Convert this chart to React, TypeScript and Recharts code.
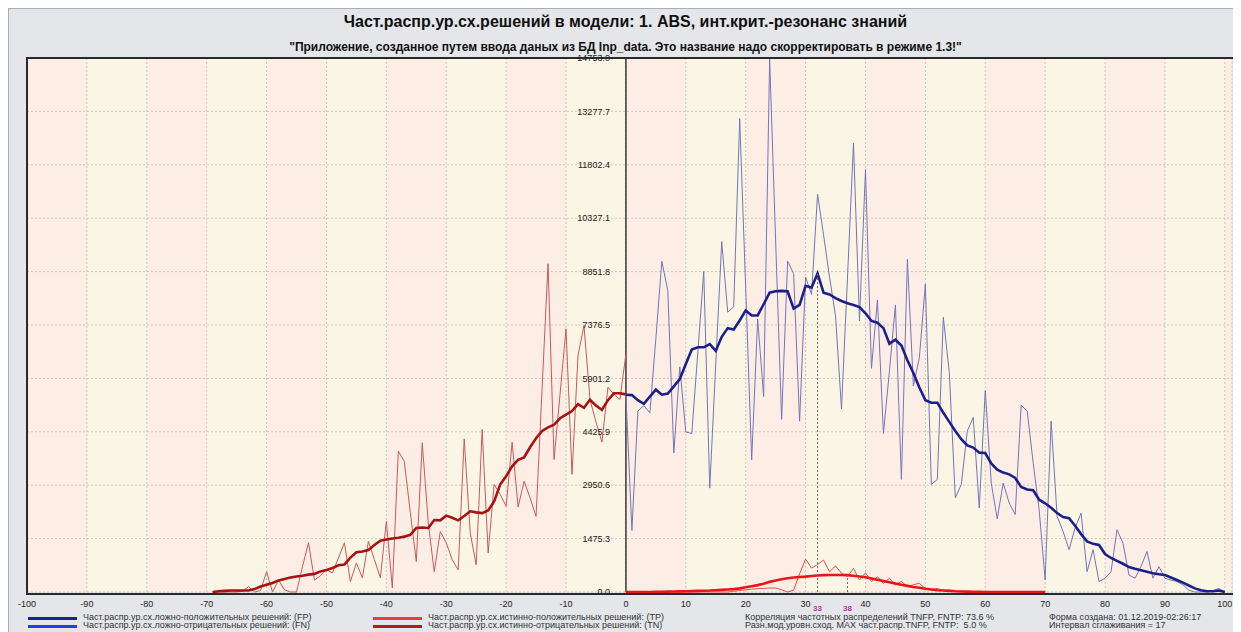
import React from 'react';
import {
  LineChart,
  Line,
  XAxis,
  YAxis,
  CartesianGrid,
  ReferenceLine,
  ReferenceDot,
} from 'recharts';

// Axis ticks
const X_TICKS = [-100, -90, -80, -70, -60, -50, -40, -30, -20, -10, 0, 10, 20, 30, 40, 50, 60, 70, 80, 90, 100];
const Y_TICKS = [0, 1475.3, 2950.6, 4425.9, 5901.2, 7376.5, 8851.8, 10327.1, 11802.4, 13277.7, 14753.0];

// True negatives (TN), levels -69 .. 0
const TN_START = -69;
const TN_RAW = [
  0, 0, 0, 0, 0, 20, 150, 0, 40, 560,
  0, 330, 60, 0, 0, 700, 1360, 330, 450, 610,
  530, 940, 1360, 290, 800, 390, 1400, 900, 390, 1950,
  110, 3890, 3610, 2200, 840, 4120, 1910, 560, 1670, 1360,
  890, 610, 4230, 1640, 750, 4490, 1080, 2970, 2700, 2370,
  4140, 2350, 3060, 2600, 2090, 5600, 9070, 3660, 5460, 7270,
  3250, 6530, 7360, 5320, 4700, 4140, 5660, 5460, 5320, 6570,
];
const TN_SMOOTH = [
  0, 20, 30, 40, 40, 40, 40, 80, 150, 200,
  250, 320, 360, 400, 430, 450, 480, 500, 570, 610,
  660, 740, 760, 950, 1100, 1120, 1160, 1300, 1420, 1450,
  1480, 1500, 1530, 1580, 1770, 1780, 1770, 1990, 1980, 2110,
  2050, 1980, 2100, 2230, 2200, 2180, 2250, 2500, 2970, 3200,
  3470, 3650, 3720, 4000, 4250, 4450, 4550, 4620, 4800, 4900,
  5000, 5190, 5090, 5310, 5150, 5030, 5300, 5490, 5490, 5460,
];

// False negatives (FN) raw and false positives (FP) smoothed, levels 0 .. 100
const FN_RAW = [
  5450, 1700, 5000, 5150, 4950, 7000, 9140, 8320, 3840, 6220,
  4420, 4380, 6600, 8850, 2870, 6300, 9680, 7730, 7880, 13080,
  8400, 3650, 7540, 5400, 14730, 9700, 4770, 9140, 8800, 4720,
  8700, 8220, 10990, 9870, 8700, 7630, 5060, 8700, 12400, 7490,
  11670, 6180, 8070, 4380, 6100, 7930, 3110, 9190, 5690, 6470,
  8510, 2970, 3110, 7590, 6060, 2600, 2970, 4450, 4820, 2320,
  5560, 3010, 2020, 3010, 2460, 2140, 5160, 5000, 3570, 2270,
  330, 4720, 2090, 1670, 1170, 1770, 2180, 560, 1170, 290,
  380, 560, 1720, 1350, 470, 380, 700, 1120, 380, 700,
  380, 330, 290, 200, 50, 0, 0, 0, 30, 100,
  0,
];
const FP_SMOOTH = [
  5450, 5440, 5300, 5200, 5400, 5590, 5450, 5480, 5680, 5880,
  6300, 6700, 6760, 6760, 6850, 6660, 7050, 7290, 7250, 7500,
  7780, 7640, 7640, 7950, 8270, 8310, 8320, 8310, 7830, 7930,
  8460, 8410, 8800, 8270, 8220, 8120, 8040, 7980, 7930, 7870,
  7700, 7490, 7440, 7290, 6860, 6970, 6810, 6400, 6050, 5650,
  5300, 5230, 5230, 4950, 4700, 4450, 4220, 4050, 3990, 3850,
  3840, 3550, 3380, 3300, 3250, 3150, 2900, 2830, 2810, 2550,
  2450, 2330, 2180, 2070, 2040, 1830, 1600, 1400, 1330, 1300,
  1050, 940, 860, 780, 690, 640, 600, 560, 520, 490,
  470, 400, 330, 260, 180, 100, 50, 20, 20, 40,
  0,
];

// True positives (TP), levels 0 .. 70
const TP_RAW = [
  0, 0, 0, 0, 0, 0, 0, 0, 0, 0,
  0, 0, 0, 0, 0, 0, 0, 0, 20, 40,
  60, 80, 90, 100, 110, 110, 60, 0, 50, 500,
  910, 660, 760, 880, 560, 720, 520, 430, 650, 330,
  530, 290, 420, 240, 380, 190, 290, 150, 200, 240,
  90, 60, 100, 40, 50, 30, 20, 10, 0, 0,
  0, 0, 0, 0, 0, 0, 0, 0, 0, 0,
  0,
];
const TP_SMOOTH = [
  0, 0, 0, 0, 0, 5, 8, 10, 15, 18,
  20, 25, 30, 35, 40, 50, 60, 70, 80, 100,
  130, 160, 190, 230, 280, 320, 350, 380, 400, 415,
  425, 440, 455, 465, 470, 470, 470, 465, 450, 430,
  410, 375, 340, 305, 270, 235, 200, 170, 140, 115,
  90, 70, 50, 40, 30, 20, 15, 10, 5, 3,
  0, 0, 0, 0, 0, 0, 0, 0, 0, 0,
  0,
];

// Positions of the distribution maxima and their index captions
const FP_PEAK_X = 32;
const TP_PEAK_X = 37;
const PEAK_CAPTIONS = ['33', '38'];

const LEGEND_LEFT = [
  { text: 'Част.распр.ур.сх.ложно-положительных решений: (FP)', color: '#1b2289' },
  { text: 'Част.распр.ур.сх.ложно-отрицательных решений: (FN)', color: '#1f3ee6' },
];
const LEGEND_MID = [
  { text: 'Част.распр.ур.сх.истинно-положительных решений: (TP)', color: '#f03a3a' },
  { text: 'Част.распр.ур.сх.истинно-отрицательных решений: (TN)', color: '#b01b1b' },
];
const STATS = [
  'Корреляция частотных распределений TNFP, FNTP: 73.6 %',
  'Разн.мод.уровн.сход. MAX част.распр.TNFP, FNTP:  5.0 %',
];
const INFO = ['Форма создана: 01.12.2019-02:26:17', 'Интервал сглаживания = 17'];

const TITLE = 'Част.распр.ур.сх.решений в модели: 1. ABS, инт.крит.-резонанс знаний';
const SUBTITLE =
  '"Приложение, созданное путем ввода даных из БД Inp_data. Это название надо скорректировать в режиме 1.3!"';

const toPoints = (start: number, values: number[]) => values.map((y, i) => ({ x: start + i, y }));

const tnRaw = toPoints(TN_START, TN_RAW);
const tnSmooth = toPoints(TN_START, TN_SMOOTH);
const fnRaw = toPoints(0, FN_RAW);
const fpSmooth = toPoints(0, FP_SMOOTH);
const tpRaw = toPoints(0, TP_RAW);
const tpSmooth = toPoints(0, TP_SMOOTH);

const FONT = '"Liberation Sans", Arial, sans-serif';
const W = 1233;
const H = 624;
const MARGIN = { top: 50, right: 9, bottom: 26, left: 19 };
const LEGEND_Y = 609;

const LegendRow = ({ x, y, color, text }: { x: number; y: number; color: string; text: string }) => (
  <>
    <div
      style={{ position: 'absolute', left: x, top: y - 1, width: 49, height: 2.5, background: color }}
    />
    <div
      style={{
        position: 'absolute',
        left: x + 55,
        top: y - 6,
        fontSize: 9,
        lineHeight: '11px',
        color: '#333',
        whiteSpace: 'pre',
      }}
    >
      {text}
    </div>
  </>
);

const TextRow = ({ x, y, text }: { x: number; y: number; text: string }) => (
  <div
    style={{
      position: 'absolute',
      left: x,
      top: y - 6,
      fontSize: 9,
      lineHeight: '11px',
      color: '#333',
      whiteSpace: 'pre',
    }}
  >
    {text}
  </div>
);

export default function App() {
  const plotW = W - MARGIN.left - MARGIN.right;
  const plotH = H - MARGIN.top - MARGIN.bottom - 14;
  return (
    <div
      style={{
        position: 'relative',
        width: W,
        height: H,
        background: '#e4e6e9',
        borderTop: '1px solid #a6aeb6',
        borderLeft: '1px solid #a6aeb6',
        boxSizing: 'border-box',
        fontFamily: FONT,
        overflow: 'hidden',
      }}
    >
      <div
        style={{
          position: 'absolute',
          left: 0,
          width: W,
          top: 3,
          textAlign: 'center',
          fontSize: 16,
          lineHeight: '20px',
          fontWeight: 'bold',
          color: '#111',
        }}
      >
        {TITLE}
      </div>
      <div
        style={{
          position: 'absolute',
          left: 0,
          width: W,
          top: 31,
          textAlign: 'center',
          fontSize: 12,
          lineHeight: '14px',
          fontWeight: 'bold',
          color: '#111',
        }}
      >
        {SUBTITLE}
      </div>

      <div style={{ position: 'absolute', left: -1, top: -1 }}>
        <LineChart width={W} height={H} margin={MARGIN}>
          <CartesianGrid
            stroke="#cdc5bd"
            strokeDasharray="2 2"
            verticalFill={['#fdeee5', '#fbf5e6']}
            fillOpacity={1}
          />
          <XAxis
            type="number"
            dataKey="x"
            domain={[-100, 101.2]}
            ticks={X_TICKS}
            interval={0}
            height={14}
            tickSize={0}
            tickMargin={9}
            axisLine={false}
            tick={{ fontSize: 9, fill: '#222', fontFamily: FONT }}
          />
          <YAxis type="number" domain={[0, 14753]} ticks={Y_TICKS} hide />

          <ReferenceLine x={0} stroke="#3a3a3a" strokeWidth={1.5} />

          <Line
            data={tnRaw}
            dataKey="y"
            type="linear"
            stroke="#c85a5a"
            strokeWidth={1}
            dot={false}
            isAnimationActive={false}
          />
          <Line
            data={tnSmooth}
            dataKey="y"
            type="linear"
            stroke="#a81212"
            strokeWidth={2.6}
            dot={false}
            isAnimationActive={false}
          />
          <Line
            data={fnRaw}
            dataKey="y"
            type="linear"
            stroke="#7474bb"
            strokeWidth={1}
            dot={false}
            isAnimationActive={false}
          />
          <Line
            data={fpSmooth}
            dataKey="y"
            type="linear"
            stroke="#1b1f8a"
            strokeWidth={2.6}
            dot={false}
            isAnimationActive={false}
          />
          <Line
            data={tpRaw}
            dataKey="y"
            type="linear"
            stroke="#ee4a4a"
            strokeWidth={1}
            dot={false}
            isAnimationActive={false}
          />
          <Line
            data={tpSmooth}
            dataKey="y"
            type="linear"
            stroke="#e81616"
            strokeWidth={2.6}
            dot={false}
            isAnimationActive={false}
          />

          <ReferenceLine
            segment={[
              { x: FP_PEAK_X, y: 0 },
              { x: FP_PEAK_X, y: FP_SMOOTH[FP_PEAK_X] },
            ]}
            stroke="#7a6272"
            strokeDasharray="2 2"
          />
          <ReferenceLine
            segment={[
              { x: TP_PEAK_X, y: 0 },
              { x: TP_PEAK_X, y: TP_SMOOTH[TP_PEAK_X] },
            ]}
            stroke="#7a6272"
            strokeDasharray="2 2"
          />
          {[FP_PEAK_X, TP_PEAK_X].map((px, i) => (
            <ReferenceDot
              key={'pk' + px}
              x={px}
              y={0}
              r={0}
              fill="none"
              stroke="none"
              label={{
                value: PEAK_CAPTIONS[i],
                position: 'bottom',
                offset: 13,
                fontSize: 8,
                fontWeight: 'bold',
                fill: '#c2309c',
                fontFamily: FONT,
              }}
            />
          ))}

          {Y_TICKS.map((v) => (
            <ReferenceDot
              key={'yl' + v}
              x={0}
              y={v}
              r={0}
              fill="none"
              stroke="none"
              label={{
                value: v.toFixed(1),
                position: 'left',
                offset: 16,
                fontSize: 9,
                fill: '#222',
                fontFamily: FONT,
              }}
            />
          ))}
        </LineChart>
      </div>

      {/* plot frame */}
      <div
        style={{
          position: 'absolute',
          left: MARGIN.left - 1 - 1,
          top: MARGIN.top - 1 - 1,
          width: plotW,
          height: plotH,
          border: '2px solid #2a2a2a',
          pointerEvents: 'none',
        }}
      />

      {LEGEND_LEFT.map((r, i) => (
        <LegendRow key={r.text} x={19} y={LEGEND_Y + i * 8} color={r.color} text={r.text} />
      ))}
      {LEGEND_MID.map((r, i) => (
        <LegendRow key={r.text} x={364} y={LEGEND_Y + i * 8} color={r.color} text={r.text} />
      ))}
      {STATS.map((t, i) => (
        <TextRow key={t} x={736} y={LEGEND_Y + i * 8} text={t} />
      ))}
      {INFO.map((t, i) => (
        <TextRow key={t} x={1040} y={LEGEND_Y + i * 8} text={t} />
      ))}
    </div>
  );
}
